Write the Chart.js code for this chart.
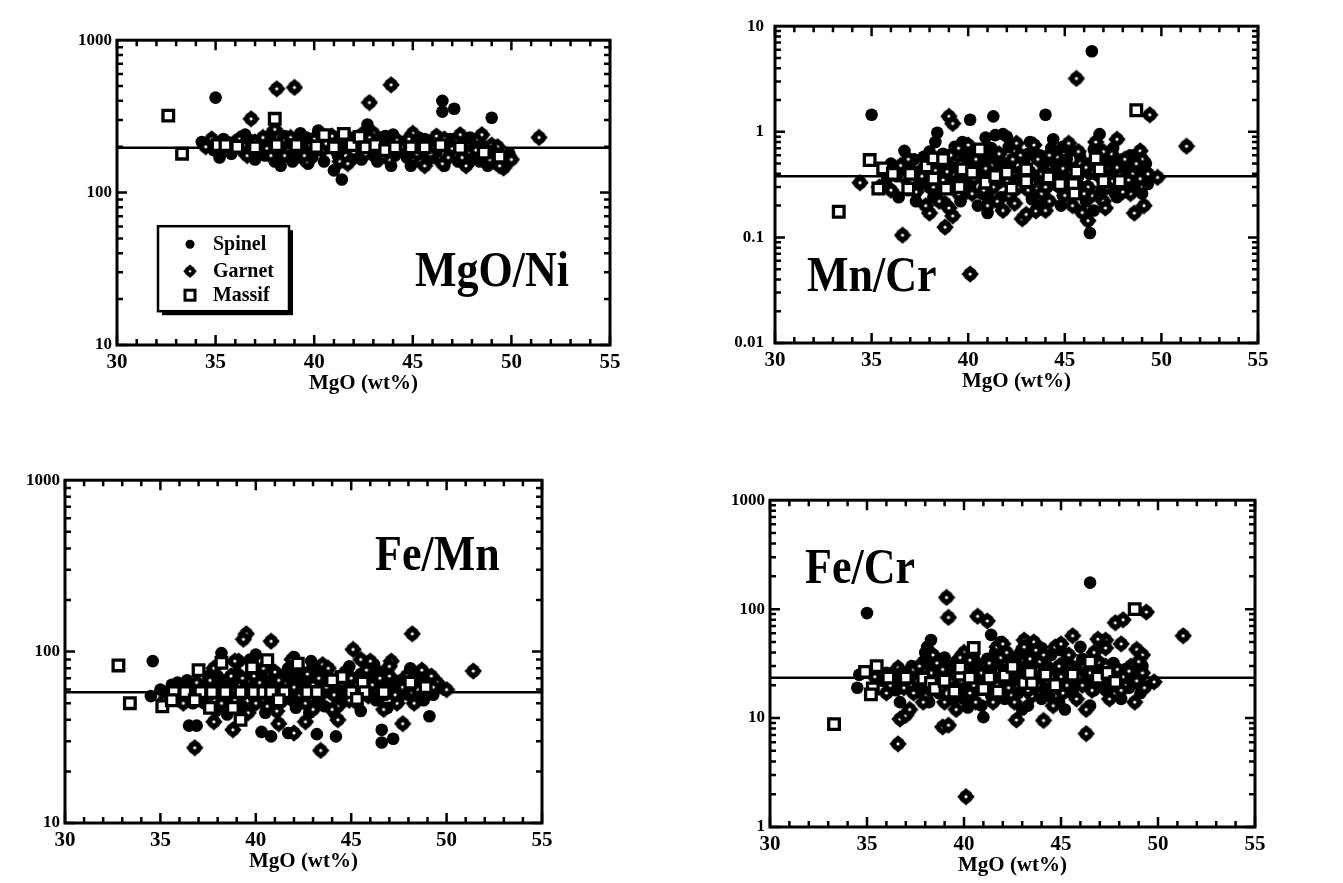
<!DOCTYPE html>
<html>
<head>
<meta charset="utf-8">
<script src="https://cdn.jsdelivr.net/npm/chart.js@4/dist/chart.umd.min.js"></script>
<style>
html, body { margin: 0; padding: 0; background: #fff; width: 1343px; height: 883px; overflow: hidden; }
canvas { position: absolute; }
</style>
</head>
<body>
<canvas id="c-ni"></canvas>
<canvas id="c-mncr"></canvas>
<canvas id="c-femn"></canvas>
<canvas id="c-fecr"></canvas>
<script>
// ── 数据：MgO (wt%) 对比值，按样品类型分组 ──────────────
const xTicks = [30, 35, 40, 45, 50, 55];

// MgO/Ni
const niTicks = [10, 100, 1000];
const niMean = 197;
const niSpinel = [[35.0,420],[42.7,280],[46.5,400],[46.5,340],[47.1,355],[49.0,310],[49.9,180],[41.4,122],[41.0,140],
  [34.3,215],[34.6,205],[35.2,170],[35.6,215],[36.0,195],[36.4,185],[36.8,220],[37.2,200],[37.5,175],[37.8,240],[38.0,160],
  [38.3,150],[38.6,215],[39.0,190],[39.3,245],[39.6,230],[39.9,170],[40.2,255],[40.5,160],[40.8,200],[41.2,175],[41.6,240],
  [42.0,230],[42.4,165],[42.9,225],[43.2,160],[43.6,235],[44.1,175],[44.5,215],[44.9,150],[45.3,230],[45.8,165],[46.2,185],
  [46.6,150],[46.9,225],[47.3,160],[47.7,175],[48.1,215],[48.4,160],[48.8,150],[49.2,155],
  [34.9,190],[35.8,180],[36.5,240],[37.0,165],[37.9,205],[38.9,160],[39.4,210],[40.0,185],[40.7,225],[41.5,195],[41.9,165],
  [42.6,205],[43.3,190],[44.0,240],[44.7,170],[45.1,195],[45.6,225],[46.0,170],[46.4,210],[47.5,205],[48.0,165],[48.6,195],
  [49.3,185],[39.7,155],[43.9,150],
  [35.4,225],[36.2,210],[37.4,190],[38.5,235],[39.1,170],[40.4,215],[41.3,210],[42.2,190],[43.0,175],[43.8,210],[44.3,190],
  [45.5,185],[46.8,195],[47.9,230],[48.5,205],[49.1,170]];
const niGarnet = [[36.8,305],[38.1,480],[39.0,490],[43.9,510],[42.8,390],[51.4,230],[49.6,145],[50.0,165],
  [34.8,225],[35.5,195],[36.2,225],[36.6,175],[37.0,215],[37.6,195],[38.0,260],[38.5,175],[38.8,230],[39.2,200],[39.6,160],
  [40.0,225],[40.4,190],[40.9,235],[41.3,160],[41.8,200],[42.2,215],[42.6,180],[43.0,245],[43.4,200],[43.8,165],[44.2,220],
  [44.6,185],[45.0,245],[45.4,160],[45.8,210],[46.2,235],[46.5,155],[47.0,195],[47.4,240],[47.9,185],[48.3,225],[48.7,175],
  [49.0,205],[49.4,150],
  [35.0,205],[35.9,210],[36.9,190],[37.4,230],[38.2,195],[39.5,175],[40.3,245],[40.6,210],[41.1,190],[42.0,185],[42.8,230],
  [43.5,175],[44.4,200],[45.2,180],[45.6,150],[46.0,195],[46.8,170],[47.2,215],[47.7,150],[48.2,190],[48.9,165],[49.3,200],
  [44.8,225],[41.7,155],[38.4,220],
  [34.5,200],[36.4,205],[37.8,175],[39.8,205],[41.5,225],[42.4,240],[43.2,215],[44.0,185],[45.9,180],[46.6,225],[47.5,170],
  [48.5,240],[49.2,180]];
const niMassif = [[32.6,320],[33.3,180],[35.1,205],[35.5,205],[36.1,200],[37.0,198],[38.0,305],[38.1,205],[39.1,205],[40.1,200],
  [40.5,238],[41.0,198],[41.5,243],[41.9,205],[42.3,232],[42.6,198],[43.1,205],[43.6,190],[44.1,198],[44.9,198],[45.6,198],
  [46.4,205],[47.4,197],[48.6,183],[49.4,172]];

// Mn/Cr
const mnCrTicks = [0.01, 0.1, 1, 10];
const mnCrMean = 0.38;
const mnCrSpinel = [[46.4,5.8],[35.0,1.45],[40.1,1.3],[41.3,1.4],[44.0,1.45],[38.4,0.98],[46.3,0.11],[41.0,0.17],[46.8,0.95],
  [41.8,0.95],[41.4,0.93],[44.4,0.85],[36.7,0.66],
  [35.8,0.36],[36.3,0.38],[36.9,0.28],[37.3,0.22],[37.7,0.58],[38.2,0.24],[38.6,0.45],[39.0,0.3],[39.3,0.72],[39.6,0.22],
  [40.0,0.5],[40.3,0.66],[40.7,0.26],[41.0,0.58],[41.4,0.44],[41.7,0.24],[42.1,0.72],[42.5,0.35],[42.9,0.52],[43.3,0.23],
  [43.7,0.6],[44.1,0.3],[44.5,0.5],[44.9,0.25],[45.3,0.66],[45.7,0.38],[46.1,0.22],[46.5,0.68],[46.9,0.28],[47.3,0.52],
  [47.7,0.24],[48.2,0.44],[48.6,0.3],[49.0,0.26],[49.2,0.5],[38.0,0.65],[40.9,0.88],[42.0,0.9],[44.9,0.72],
  [37.0,0.45],[37.6,0.32],[38.1,0.4],[38.5,0.28],[38.9,0.52],[39.4,0.35],[39.8,0.6],[40.1,0.3],[40.5,0.45],[40.8,0.36],
  [41.2,0.7],[41.6,0.33],[41.9,0.5],[42.3,0.27],[42.7,0.42],[43.1,0.62],[43.5,0.36],[43.9,0.48],[44.3,0.4],[44.7,0.3],
  [45.1,0.55],[45.5,0.45],[45.9,0.3],[46.3,0.4],[46.7,0.55],[47.1,0.36],[47.5,0.7],[47.9,0.3],[48.4,0.6],[48.8,0.45],
  [36.4,0.24],[40.5,0.2],[43.6,0.2],[46.5,0.18],[39.7,0.8],[44.3,0.7],
  [37.2,0.55],[37.9,0.36],[38.7,0.62],[39.3,0.45],[39.9,0.35],[40.6,0.6],[41.1,0.4],[41.5,0.52],[42.2,0.45],[42.8,0.3],
  [43.2,0.42],[43.9,0.34],[44.6,0.42],[45.2,0.35],[45.8,0.58],[46.2,0.5],[46.9,0.45],[47.4,0.4],[48.0,0.55],[48.6,0.38],
  [49.3,0.32],[36.0,0.5],[38.3,0.8],[43.2,0.8],[41.0,0.24],[44.8,0.2],[47.6,0.26]];
const mnCrGarnet = [[45.6,3.2],[49.4,1.45],[39.0,1.4],[39.2,1.2],[51.3,0.73],[49.8,0.37],[36.6,0.105],[40.1,0.045],[48.6,0.17],
  [34.4,0.33],[38.8,0.125],[39.2,0.16],[38.0,0.17],[42.8,0.15],[43.5,0.178],[45.9,0.172],[46.2,0.144],[48.9,0.66],[47.7,0.85],
  [35.4,0.3],[36.0,0.28],[36.5,0.48],[37.1,0.34],[37.5,0.42],[38.0,0.3],[38.4,0.55],[38.8,0.21],[39.2,0.4],[39.5,0.7],
  [39.9,0.27],[40.3,0.36],[40.6,0.56],[41.0,0.2],[41.3,0.3],[41.6,0.62],[42.0,0.34],[42.4,0.21],[42.7,0.6],[43.1,0.28],
  [43.4,0.75],[43.8,0.4],[44.2,0.22],[44.6,0.58],[45.0,0.36],[45.4,0.2],[45.8,0.5],[46.2,0.3],[46.6,0.8],[47.0,0.22],
  [47.4,0.62],[47.8,0.4],[48.1,0.55],[48.4,0.26],[48.9,0.36],[49.1,0.2],[37.8,0.2],[43.0,0.165],[45.0,0.48],
  [36.7,0.37],[37.3,0.27],[37.9,0.5],[38.3,0.43],[38.7,0.35],[39.1,0.6],[39.5,0.26],[39.9,0.42],[40.4,0.55],[40.8,0.28],
  [41.2,0.48],[41.5,0.22],[41.9,0.42],[42.3,0.55],[42.6,0.3],[43.0,0.45],[43.3,0.33],[43.8,0.26],[44.2,0.6],[44.6,0.32],
  [45.0,0.25],[45.3,0.42],[45.7,0.65],[46.1,0.46],[46.4,0.25],[46.8,0.38],[47.2,0.3],[47.6,0.5],[48.0,0.27],[48.5,0.4],
  [49.0,0.55],[40.0,0.75],[42.5,0.78],[44.0,0.18],[47.1,0.19],[38.5,0.22],
  [36.9,0.55],[37.6,0.38],[38.2,0.3],[38.9,0.42],[39.6,0.5],[40.2,0.26],[40.9,0.45],[41.7,0.38],[42.1,0.25],[42.9,0.38],
  [43.6,0.55],[44.0,0.3],[44.9,0.45],[45.5,0.34],[46.0,0.26],[46.5,0.42],[47.0,0.65],[47.7,0.46],[48.3,0.35],[48.7,0.5],
  [49.3,0.4],[40.7,0.65],[45.2,0.78],[41.8,0.18],[39.0,0.19]];
const mnCrMassif = [[48.7,1.6],[33.3,0.175],[34.9,0.54],[35.6,0.45],[35.35,0.29],[36.1,0.40],[36.9,0.29],[37.0,0.40],[37.85,0.47],
  [38.2,0.36],[38.2,0.56],[38.7,0.55],[38.85,0.29],[39.55,0.30],[39.7,0.44],[40.2,0.41],[40.6,0.68],[40.9,0.33],[41.4,0.38],
  [42.0,0.41],[42.25,0.29],[43.0,0.34],[43.0,0.44],[44.15,0.37],[44.75,0.32],[45.45,0.32],[45.5,0.26],[45.6,0.42],[46.6,0.56],
  [46.8,0.44],[47.0,0.34],[47.85,0.34]];

// Fe/Mn
const feMnTicks = [10, 100, 1000];
const feMnMean = 58;
const feMnSpinel = [[34.6,88],[38.2,98],[40.0,96],[42.0,93],[49.9,60],[40.8,32],[40.3,34],[36.5,37],[36.9,37],[46.6,29.5],
  [47.2,31],[46.6,35],[49.1,42],[44.2,32],[43.2,33],[41.7,33.5],
  [34.5,55],[35.0,60],[35.6,64],[36.0,57],[36.4,68],[36.7,50],[37.1,62],[37.5,72],[37.9,45],[38.3,66],[38.6,55],[39.0,75],
  [39.3,48],[39.7,90],[40.1,62],[40.5,44],[40.9,70],[41.3,56],[41.7,80],[42.1,47],[42.5,64],[42.9,88],[43.3,52],[43.7,72],
  [44.1,44],[44.5,60],[44.9,82],[45.3,50],[45.7,68],[46.1,56],[46.5,76],[46.9,47],[47.3,64],[47.7,58],[48.1,80],[48.5,52],
  [48.9,68],[49.3,56],[49.6,64],
  [35.3,58],[36.1,64],[36.6,56],[37.3,50],[37.7,64],[38.1,56],[38.8,66],[39.4,60],[39.9,54],[40.3,72],[40.7,50],[41.1,62],
  [41.5,74],[41.9,52],[42.3,68],[42.7,55],[43.1,76],[43.5,62],[43.9,70],[44.3,56],[44.7,66],[45.1,54],[45.5,74],[45.9,62],
  [46.3,52],[46.7,64],[47.1,70],[47.5,54],[47.9,64],[48.3,70],[48.7,56],[49.1,62],[38.5,43],[42.8,44],[45.5,45],
  [35.9,66],[36.8,60],[37.6,56],[38.0,72],[38.7,48],[39.5,64],[40.2,56],[40.6,66],[41.0,52],[41.6,60],[42.0,70],[42.4,58],
  [42.8,66],[43.2,58],[43.6,48],[44.0,62],[44.4,72],[44.8,58],[45.2,66],[45.6,56],[46.0,72],[46.4,62],[46.8,56],[47.2,60],
  [47.6,68],[48.0,56],[48.4,62],[48.8,52],[49.4,60],[43.0,82],[46.2,84]];
const feMnGarnet = [[36.8,27.5],[39.5,127],[39.35,118],[40.8,115],[48.2,127],[51.4,77],[43.4,26.5],[47.7,38],[38.8,35],
  [42.6,39],[42.0,33.5],[41.2,38],[37.8,39],[45.1,103],[39.1,88],[46.0,88],[44.3,40],
  [35.2,52],[35.8,62],[36.2,50],[36.9,66],[37.3,55],[37.8,80],[38.2,50],[38.5,62],[38.9,88],[39.2,55],[39.6,68],[40.0,50],
  [40.4,80],[40.7,58],[41.1,45],[41.5,66],[41.9,90],[42.3,56],[42.7,74],[43.0,46],[43.5,84],[43.9,58],[44.3,48],[44.7,76],
  [45.1,62],[45.5,90],[45.9,55],[46.3,68],[46.7,46],[47.1,88],[47.5,60],[47.9,72],[48.3,50],[48.7,78],[49.0,60],[49.5,66],
  [50.0,60],
  [35.5,56],[36.3,60],[36.8,54],[37.5,62],[37.9,68],[38.4,58],[38.9,52],[39.3,70],[39.8,60],[40.2,66],[40.6,48],[41.0,76],
  [41.4,52],[41.8,60],[42.2,80],[42.6,50],[43.0,64],[43.4,56],[43.8,80],[44.2,64],[44.6,52],[45.0,70],[45.4,58],[45.8,78],
  [46.2,60],[46.6,56],[47.0,72],[47.4,50],[47.8,66],[48.2,58],[48.6,66],[49.2,72],[39.6,44],[44.0,46],[47.0,82],
  [35.6,60],[36.5,56],[37.0,58],[37.6,68],[38.1,62],[38.7,72],[39.4,58],[39.9,72],[40.3,58],[40.8,62],[41.2,68],[41.6,56],
  [42.0,62],[42.5,60],[42.9,54],[43.3,70],[43.7,62],[44.1,56],[44.5,66],[44.9,52],[45.3,64],[45.7,60],[46.1,64],[46.5,70],
  [46.9,62],[47.3,56],[47.7,62],[48.1,66],[48.5,60],[48.9,58],[49.3,62]];
const feMnMassif = [[32.8,83],[33.4,50],[35.1,48],[38.2,86],[37.0,78],[39.8,81],[40.6,89],[42.2,85],[44.5,71],[44.0,68],
  [48.1,66],[48.9,62],[45.6,66],[35.7,58],[36.3,58],[37.1,58],[37.7,58],[38.4,58],[39.2,58],[39.9,58],[40.4,58],[40.8,58],
  [41.5,58],[42.7,58],[43.2,58],[45.0,58],[45.7,58],[46.7,58],[37.6,47],[38.8,47],[39.2,40],[36.8,52],[35.6,52],[41.2,52],
  [45.3,53]];

// Fe/Cr
const feCrTicks = [1, 10, 100, 1000];
const feCrMean = 23.5;
const feCrSpinel = [[35.0,92],[46.5,175],[41.4,58],[41.9,50],[38.3,52],[38.1,45],[41.0,10.2],[45.2,12],
  [34.6,25],[34.5,19],[35.8,22],[36.3,20],[36.7,14],[37.1,26],[37.5,18],[37.9,33],[38.2,14],[38.6,27],[39.0,36],[39.4,15],
  [39.8,30],[40.2,20],[40.5,38],[40.9,13],[41.3,26],[41.7,33],[42.1,15],[42.5,22],[42.9,40],[43.3,13],[43.7,30],[44.1,19],
  [44.5,38],[44.9,14],[45.3,28],[45.7,20],[46.1,35],[46.5,13],[46.9,26],[47.3,18],[47.7,32],[48.1,15],[48.6,25],[49.1,17],
  [49.2,30],
  [36.0,26],[36.6,22],[37.3,30],[37.8,22],[38.3,30],[38.7,17],[39.1,24],[39.6,33],[40.0,15],[40.4,28],[40.8,22],[41.2,35],
  [41.6,18],[42.0,28],[42.4,34],[42.8,17],[43.2,30],[43.6,24],[44.0,34],[44.4,16],[44.8,27],[45.2,33],[45.6,17],[46.0,27],
  [46.4,21],[46.8,30],[47.2,24],[47.6,20],[48.0,26],[48.5,19],[38.0,40],[44.0,44],[46.0,45],[40.2,12.5],[43.0,12],
  [36.5,18],[37.0,22],[37.6,26],[38.1,19],[38.8,22],[39.3,30],[39.7,19],[40.1,26],[40.6,33],[41.0,25],[41.4,16],[41.9,22],
  [42.3,26],[42.7,35],[43.1,20],[43.5,28],[43.9,25],[44.3,30],[44.7,22],[45.1,20],[45.5,24],[45.9,30],[46.3,26],[46.7,18],
  [47.1,28],[47.5,22],[47.9,18],[48.3,28],[48.8,21],[49.0,27],[44.0,15],[41.6,40],[45.0,42],[43.4,38]];
const feCrGarnet = [[39.1,128],[39.2,84],[40.7,86],[41.2,78],[49.4,94],[51.3,57],[49.8,21.5],[36.6,5.8],[40.1,1.9],[46.3,7.2],
  [38.9,8.3],[39.2,8.6],[44.1,9.5],[42.7,9.6],[36.7,9.8],[37.0,10.6],[48.1,48],[47.8,75],[48.2,80],[48.9,42.7],[49.2,38],
  [47.3,52],[46.9,53],[45.6,57],[43.1,52],[43.6,50],[41.7,45],
  [35.4,24],[36.0,17],[36.6,29],[37.2,12],[37.6,22],[38.0,16],[38.4,38],[38.8,19],[39.2,28],[39.6,12],[40.0,40],[40.3,17],
  [40.7,30],[41.1,22],[41.5,14],[41.9,36],[42.3,19],[42.7,28],[43.1,45],[43.5,16],[43.9,33],[44.3,22],[44.7,45],[45.1,17],
  [45.5,30],[45.9,24],[46.3,12],[46.7,40],[47.1,21],[47.5,15],[47.9,28],[48.3,20],[48.8,14],[49.0,33],[49.3,19],
  [36.3,24],[36.9,19],[37.4,28],[37.9,14],[38.2,24],[38.6,32],[39.0,14],[39.4,20],[39.8,36],[40.2,25],[40.6,14],[41.0,30],
  [41.4,20],[41.8,27],[42.2,40],[42.6,14],[43.0,24],[43.4,35],[43.8,20],[44.2,28],[44.6,13],[45.0,24],[45.4,38],[45.8,15],
  [46.2,30],[46.6,18],[47.0,32],[47.4,25],[47.8,17],[48.2,24],[48.6,30],[49.1,24],[45.0,48],[42.0,48],[47.3,44],
  [36.2,20],[36.8,26],[37.4,17],[37.7,30],[38.3,26],[38.9,28],[39.3,22],[39.7,16],[40.1,30],[40.5,20],[40.9,26],[41.3,32],
  [41.7,20],[42.1,24],[42.5,30],[42.9,22],[43.3,18],[43.7,28],[44.1,38],[44.5,24],[44.9,30],[45.3,20],[45.7,28],[46.1,20],
  [46.5,26],[46.9,22],[47.3,30],[47.7,23],[48.1,18],[48.5,27],[48.9,22],[49.2,26],[43.7,42],[40.3,34]];
const feCrMassif = [[48.8,100],[33.3,8.8],[46.5,33],[40.5,44],[35.5,30],[34.9,26.5],[35.3,18.7],[35.2,16.5],[36.1,23.5],
  [37.0,23.5],[37.9,23],[38.3,21],[38.5,18.5],[39.0,22],[39.5,17.5],[39.8,25],[39.8,29],[40.3,23.5],[41.0,18.5],[41.3,23.5],
  [41.75,17.5],[42.1,24.5],[42.5,29.5],[43.1,21],[43.5,21],[43.4,26],[44.2,25],[44.7,20],[45.6,25],[46.9,23.5],[47.4,26],
  [47.8,21.5]];

// ── 标记样式 ──────────────────────
const SERIF = '"Liberation Serif", "DejaVu Serif", serif';

function makeGarnetStyle() {
    const c = document.createElement('canvas');
    c.width = 18; c.height = 18;
    const g = c.getContext('2d');
    g.fillStyle = '#000';
    g.beginPath();
    g.moveTo(9, 1.2); g.lineTo(16.8, 9); g.lineTo(9, 16.8); g.lineTo(1.2, 9);
    g.closePath();
    g.lineJoin = 'round'; g.lineWidth = 1.5; g.strokeStyle = '#000';
    g.fill(); g.stroke();
    g.beginPath(); g.arc(9, 9, 6.8, 0, Math.PI * 2); g.fill();
    g.beginPath(); g.arc(9, 9, 1.6, 0, Math.PI * 2);
    g.fillStyle = '#fff'; g.fill();
    return c;
}
const garnetStyle = makeGarnetStyle();

const toPts = arr => arr.map(p => ({ x: p[0], y: p[1] }));

// ── 边框、内向刻度、面板标题、图例 ──────────────────────
const framePlugin = {
    id: 'frame',
    afterDraw(chart, args, opts) {
        const { ctx, chartArea: a, scales: { x, y } } = chart;
        ctx.save();
        ctx.strokeStyle = '#000';
        ctx.lineWidth = 2.5;
        ctx.beginPath();
        for (let v = 30; v <= 55; v++) {
            const px = x.getPixelForValue(v);
            const len = v % 5 === 0 ? 10 : 6;
            ctx.moveTo(px, a.bottom); ctx.lineTo(px, a.bottom - len);
            ctx.moveTo(px, a.top); ctx.lineTo(px, a.top + len);
        }
        const d0 = Math.round(Math.log10(y.min)), d1 = Math.round(Math.log10(y.max));
        for (let d = d0; d < d1; d++) {
            for (let m = 1; m <= 9; m++) {
                const py = y.getPixelForValue(m * Math.pow(10, d));
                const len = m === 1 ? 10 : 6;
                ctx.moveTo(a.left, py); ctx.lineTo(a.left + len, py);
                ctx.moveTo(a.right, py); ctx.lineTo(a.right - len, py);
            }
        }
        ctx.stroke();
        ctx.lineWidth = 3;
        ctx.strokeRect(a.left, a.top, a.right - a.left, a.bottom - a.top);

        // 面板标题
        ctx.fillStyle = '#000';
        ctx.font = 'bold 50px ' + SERIF;
        ctx.textBaseline = 'alphabetic';
        ctx.translate(a.left + opts.lx, a.top + opts.ly);
        ctx.scale(0.88, 1);
        ctx.fillText(opts.label, 0, 0);
        ctx.restore();

        if (opts.legend) drawLegend(ctx, a.left + 41, a.top + 186);
    }
};

function drawLegend(ctx, bx, by) {
    const w = 131, h = 85;
    ctx.save();
    ctx.fillStyle = '#000';
    ctx.fillRect(bx + 4, by + 4, w, h);
    ctx.fillStyle = '#fff';
    ctx.fillRect(bx, by, w, h);
    ctx.strokeStyle = '#000'; ctx.lineWidth = 2.5;
    ctx.strokeRect(bx, by, w, h);
    const mx = bx + 32;
    // Spinel
    ctx.fillStyle = '#000';
    ctx.beginPath(); ctx.arc(mx, by + 18, 4.5, 0, Math.PI * 2); ctx.fill();
    // Garnet
    ctx.drawImage(garnetStyle, mx - 7, by + 45 - 7, 14, 14);
    // Massif
    ctx.fillStyle = '#fff'; ctx.lineWidth = 3;
    ctx.fillRect(mx - 5, by + 64, 10, 10); ctx.strokeRect(mx - 5, by + 64, 10, 10);
    ctx.fillStyle = '#000';
    ctx.font = 'bold 21px ' + SERIF;
    ctx.textBaseline = 'middle';
    ctx.save();
    ctx.translate(bx + 55, 0);
    ctx.scale(0.95, 1);
    ctx.fillText('Spinel', 0, by + 18);
    ctx.fillText('Garnet', 0, by + 45);
    ctx.fillText('Massif', 0, by + 69);
    ctx.restore();
    ctx.restore();
}

// ── 单个面板 ──────────────────────
function makePanel(id, plot, yTicks, spinel, garnet, massif, mean, label) {
    const padL = 75, padT = 15, padR = 20, xH = 54;
    const canvas = document.getElementById(id);
    const W = (plot.r - plot.l) + padL + padR;
    const H = (plot.b - plot.t) + padT + xH;
    canvas.style.left = (plot.l - padL) + 'px';
    canvas.style.top = (plot.t - padT) + 'px';
    canvas.width = W; canvas.height = H;
    canvas.style.width = W + 'px'; canvas.style.height = H + 'px';

    return new Chart(canvas.getContext('2d'), {
        type: 'scatter',
        data: {
            datasets: [
                { label: 'Massif', data: toPts(massif), pointStyle: 'rect', pointRadius: 7.5,
                  borderWidth: 3.3, borderColor: '#000', backgroundColor: '#fff' },
                { label: 'Garnet', data: toPts(garnet), pointStyle: garnetStyle, pointRadius: 8 },
                { label: 'Spinel', data: toPts(spinel), pointStyle: 'circle', pointRadius: 6.3,
                  borderWidth: 0, backgroundColor: '#000' },
                { label: 'mean', data: [{ x: 30, y: mean }, { x: 55, y: mean }], showLine: true,
                  pointRadius: 0, borderColor: '#000', borderWidth: 2.5 },
            ]
        },
        options: {
            responsive: false,
            animation: false,
            events: [],
            layout: { padding: { left: 0, top: padT, right: padR, bottom: 0 } },
            plugins: {
                legend: { display: false },
                tooltip: { enabled: false },
                frame: { label, lx: plot.lx, ly: plot.ly, legend: !!plot.legend },
            },
            scales: {
                x: {
                    type: 'linear', min: 30, max: 55,
                    afterBuildTicks: s => { s.ticks = xTicks.map(v => ({ value: v })); },
                    afterFit: s => { s.height = xH; },
                    grid: { display: false, drawTicks: false },
                    border: { display: false },
                    ticks: { color: '#000', padding: 5, font: { family: SERIF, size: 21, weight: 'bold' } },
                    title: { display: true, text: 'MgO (wt%)', color: '#000', padding: { top: 0, bottom: 3 },
                             font: { family: SERIF, size: 21, weight: 'bold' } },
                },
                y: {
                    type: 'logarithmic', min: yTicks[0], max: yTicks[yTicks.length - 1],
                    afterBuildTicks: s => { s.ticks = yTicks.map(v => ({ value: v })); },
                    afterFit: s => { s.width = padL; },
                    grid: { display: false, drawTicks: false },
                    border: { display: false },
                    ticks: { color: '#000', padding: plot.yPad, font: { family: SERIF, size: 17, weight: 'bold' },
                             callback: v => String(v) },
                }
            }
        },
        plugins: [framePlugin]
    });
}

makePanel('c-ni',   { l: 117, t: 40,  r: 610,  b: 345, lx: 298, ly: 246, yPad: 5, legend: true },
          niTicks, niSpinel, niGarnet, niMassif, niMean, 'MgO/Ni');
makePanel('c-mncr', { l: 775, t: 20,  r: 1258, b: 343, lx: 32,  ly: 265, yPad: 11 },
          mnCrTicks, mnCrSpinel, mnCrGarnet, mnCrMassif, mnCrMean, 'Mn/Cr');
makePanel('c-femn', { l: 65,  t: 480, r: 542,  b: 823, lx: 310, ly: 90, yPad: 5 },
          feMnTicks, feMnSpinel, feMnGarnet, feMnMassif, feMnMean, 'Fe/Mn');
makePanel('c-fecr', { l: 770, t: 500, r: 1255, b: 827, lx: 35,  ly: 83, yPad: 5 },
          feCrTicks, feCrSpinel, feCrGarnet, feCrMassif, feCrMean, 'Fe/Cr');
</script>
</body>
</html>
